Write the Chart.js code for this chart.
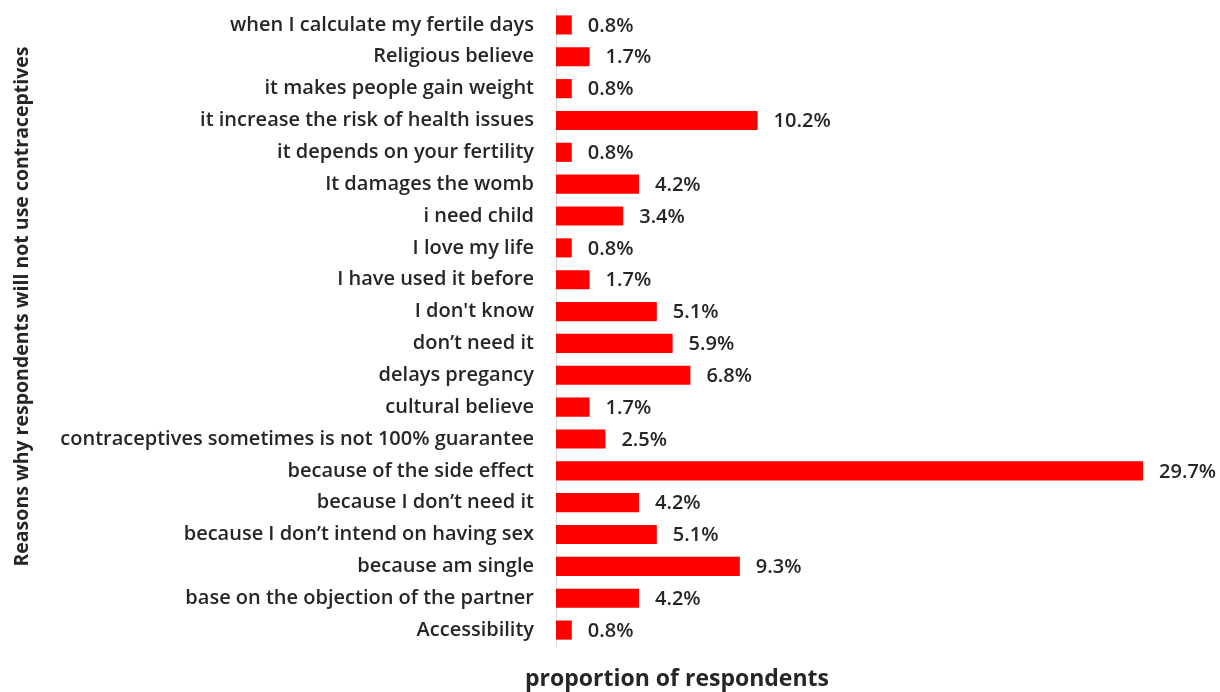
<!DOCTYPE html>
<html>
<head>
<meta charset="utf-8">
<script src="https://cdn.jsdelivr.net/npm/chart.js@4.4.1/dist/chart.umd.min.js"></script>
<style>
  html, body { margin: 0; padding: 0; background: #fff; }
  #wrap { width: 1220px; height: 692px; position: relative; }
</style>
</head>
<body>
<div id="wrap"><canvas id="reasons-chart"></canvas></div>
<script>
// Data (top to bottom)
const reasons = [
  'when I calculate my fertile days',
  'Religious believe',
  'it makes people gain weight',
  'it increase the risk of health issues',
  'it depends on your fertility',
  'It damages the womb',
  'i need child',
  'I love my life',
  'I have used it before',
  "I don't know",
  'don\u2019t need it',
  'delays pregancy',
  'cultural believe',
  'contraceptives sometimes is not 100% guarantee',
  'because of the side effect',
  'because I don\u2019t need it',
  'because I don\u2019t intend on having sex',
  'because am single',
  'base on the objection of the partner',
  'Accessibility'
];
const proportions = [0.8, 1.7, 0.8, 10.2, 0.8, 4.2, 3.4, 0.8, 1.7, 5.1, 5.9, 6.8, 1.7, 2.5, 29.7, 4.2, 5.1, 9.3, 4.2, 0.8];

const xTitle = 'proportion of respondents';
const yTitle = 'Reasons why respondents will not use contraceptives';

const FONT = "'Open Sans', 'Liberation Sans', sans-serif";
const TEXT = '#262626';

// value labels to the right of each bar
const barLabels = {
  id: 'barLabels',
  afterDatasetsDraw(chart) {
    const ctx = chart.ctx;
    const meta = chart.getDatasetMeta(0);
    ctx.save();
    ctx.font = `600 20px ${FONT}`;
    ctx.fillStyle = TEXT;
    ctx.textAlign = 'left';
    ctx.textBaseline = 'middle';
    meta.data.forEach((bar, i) => {
      ctx.fillText(proportions[i].toFixed(1) + '%', bar.x + 16, bar.y + 1);
    });
    ctx.restore();
  }
};

// axis titles sit off-centre in the original, so draw them by hand
const axisTitles = {
  id: 'axisTitles',
  afterDraw(chart) {
    const ctx = chart.ctx;
    const area = chart.chartArea;
    ctx.save();
    ctx.fillStyle = TEXT;
    ctx.textAlign = 'center';
    ctx.textBaseline = 'middle';
    ctx.font = `bold 23px ${FONT}`;
    ctx.fillText(xTitle, area.left + 121, area.bottom + 33);
    ctx.translate(22, (area.top + area.bottom) / 2 - 21);
    ctx.rotate(-Math.PI / 2);
    ctx.font = `bold 19.5px ${FONT}`;
    ctx.fillText(yTitle, 0, 0);
    ctx.restore();
  }
};

new Chart(document.getElementById('reasons-chart'), {
  type: 'bar',
  data: {
    labels: reasons,
    datasets: [{
      data: proportions,
      backgroundColor: '#ff0000',
      borderWidth: 0,
      barPercentage: 0.6,
      categoryPercentage: 1
    }]
  },
  options: {
    indexAxis: 'y',
    responsive: true,
    maintainAspectRatio: false,
    animation: false,
    layout: { padding: { top: 9, right: 71, bottom: 46, left: 0 } },
    plugins: {
      legend: { display: false },
      tooltip: { enabled: false }
    },
    scales: {
      x: { display: false, min: 0, max: 30 },
      y: {
        grid: { display: false, drawTicks: false },
        border: { display: true, color: '#d9d9d9', width: 1 },
        ticks: { color: TEXT, padding: 22, font: { family: FONT, size: 20, weight: '600' } },
        afterFit(scale) {
          scale.width = 556;
          // tick padding would otherwise push the plot down
          scale.paddingTop = 0;
          scale.paddingBottom = 0;
        }
      }
    }
  },
  plugins: [barLabels, axisTitles]
});
</script>
</body>
</html>
